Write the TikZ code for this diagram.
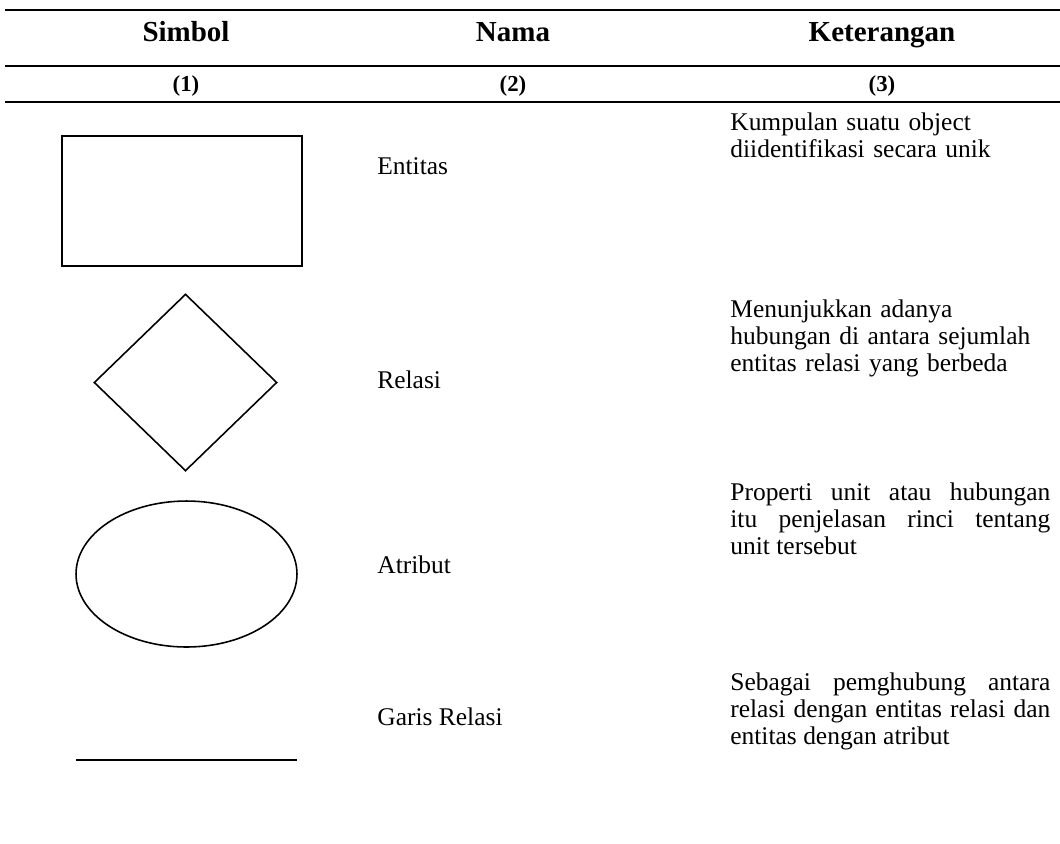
\documentclass[tikz,border=0pt]{standalone}
\usepackage{fontspec}
\setmainfont{Liberation Serif}
\usetikzlibrary{shapes.geometric}

\begin{document}
\begin{tikzpicture}[x=0.02cm,y=-0.02cm,
    judul/.style={font=\fontsize{16.5}{19}\selectfont\bfseries,anchor=base},
    nomor/.style={font=\fontsize{13}{15}\selectfont\bfseries,anchor=base},
    nama/.style={font=\fontsize{14.5}{15.5}\selectfont,anchor=base west,inner sep=0pt},
    ket/.style={font=\fontsize{14.5}{15.5}\selectfont,anchor=north west,inner sep=0pt,text width=6.4cm},
    garis/.style={line width=1.2pt},
    simbol/.style={draw,line width=0.9pt,inner sep=0pt}]
  \useasboundingbox (0,0) rectangle (1060,843);
  % kepala tabel
  \draw[garis] (5,10) -- (1060,10);
  \node[judul] (hSimbol) at (186,41) {Simbol};
  \node[judul] (hNama) at (513,41) {Nama};
  \node[judul] (hKet) at (882,41) {Keterangan};
  \draw[garis] (5,66) -- (1060,66);
  \node[nomor] (n1) at (186,91) {(1)};
  \node[nomor] (n2) at (513,91) {(2)};
  \node[nomor] (n3) at (882,91) {(3)};
  \draw[garis] (5,102) -- (1060,102);
  % entitas
  \node[simbol,rectangle,minimum width=4.8cm,minimum height=2.6cm] (entitas) at (182,201) {};
  \node[nama] (tEntitas) at (377,174) {Entitas};
  \node[ket,align=left] (kEntitas) at (730,111) {\strut Kumpulan suatu object\\ diidentifikasi secara unik};
  % relasi
  \node[simbol,diamond,minimum width=3.66cm,minimum height=3.54cm] (relasi) at (185.5,382.5) {};
  \node[nama] (tRelasi) at (377,388) {Relasi};
  \node[ket,align=left] (kRelasi) at (730,298) {\strut Menunjukkan adanya\\ hubungan di antara sejumlah\\ entitas relasi yang berbeda};
  % atribut
  \node[simbol,ellipse,minimum width=4.42cm,minimum height=2.92cm] (atribut) at (186.5,574) {};
  \node[nama] (tAtribut) at (377,573) {Atribut};
  \node[ket,align=justify] (kAtribut) at (730,481) {\strut Properti unit atau hubungan\linebreak itu penjelasan rinci tentang\linebreak unit tersebut};
  % garis relasi
  \coordinate (gKiri) at (76,760);
  \coordinate (gKanan) at (297,760);
  \draw[line width=0.9pt] (gKiri) -- (gKanan);
  \node[nama] (tGaris) at (377,725) {Garis Relasi};
  \node[ket,align=justify] (kGaris) at (730,671) {\strut Sebagai pemghubung antara\linebreak relasi dengan entitas relasi dan\linebreak entitas dengan atribut};
\end{tikzpicture}
\end{document}
